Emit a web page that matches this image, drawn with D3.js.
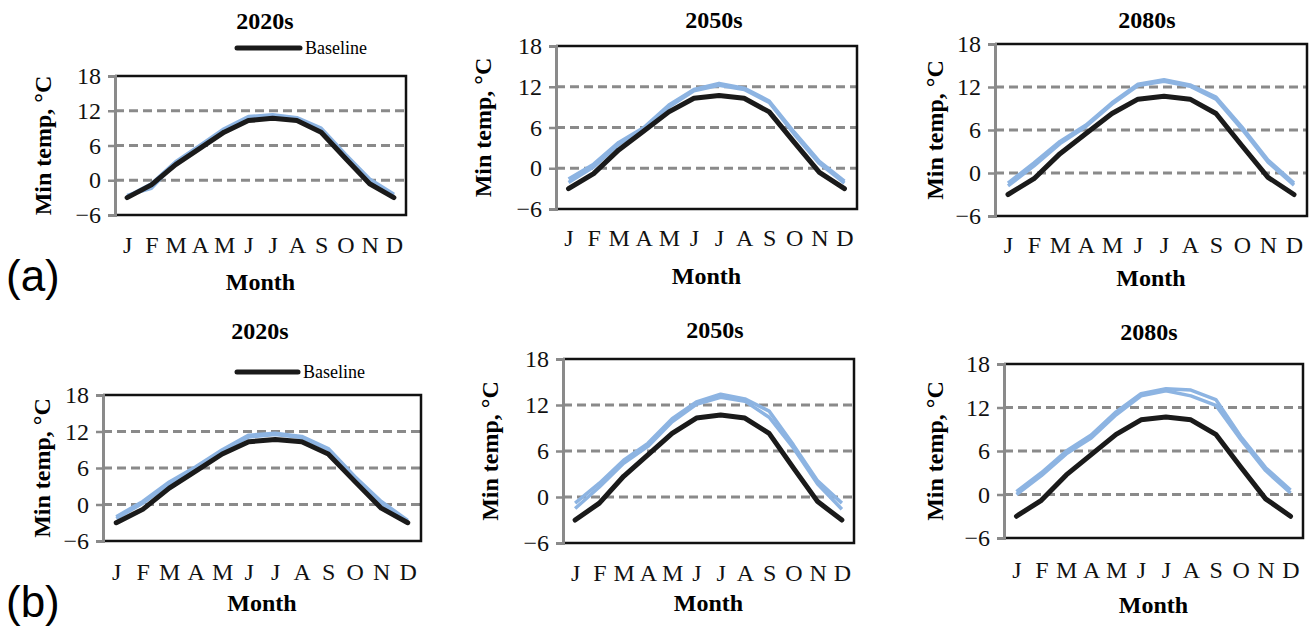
<!DOCTYPE html>
<html><head><meta charset="utf-8">
<script src="https://cdn.jsdelivr.net/npm/d3@7"></script>
<style>body{margin:0;background:#fff}svg{display:block}</style>
</head><body>
<svg id="c" width="1314" height="627"></svg>
<script>
const months = ["J","F","M","A","M","J","J","A","S","O","N","D"];
const yTicks = [-6, 0, 6, 12, 18];
const gridValues = [0, 6, 12];
const baseline = [-3.0,-0.8,2.7,5.5,8.3,10.3,10.7,10.3,8.3,3.8,-0.6,-3.0];

const a2020_1 = [-2.6,-1.4,3.0,5.8,8.7,10.8,11.1,10.7,8.8,4.3,0.0,-2.6];
const a2020_2 = [-2.8,-0.6,3.2,6.0,8.9,11.0,11.3,10.8,9.0,4.5,0.2,-2.4];
const a2050_1 = [-1.6,0.6,3.8,6.0,9.3,11.6,12.5,11.8,9.9,5.3,1.0,-1.9];
const a2050_2 = [-2.1,0.2,3.5,5.8,9.0,11.4,12.2,11.6,9.7,5.0,0.7,-2.2];
const a2080_1 = [-1.4,1.4,4.4,6.7,9.8,12.4,13.0,12.3,10.6,6.4,1.8,-1.4];
const a2080_2 = [-1.8,1.0,4.1,6.5,9.6,12.2,12.8,12.1,10.3,6.1,1.5,-1.7];
const b2020_1 = [-2.0,0.5,3.7,6.2,9.0,11.4,11.7,11.2,9.2,4.6,0.5,-2.6];
const b2020_2 = [-2.3,0.2,3.4,6.0,8.8,11.1,11.5,11.0,9.0,4.4,0.2,-2.8];
const b2050_1 = [-0.8,1.8,4.8,7.0,10.2,12.4,13.4,12.8,11.2,6.8,2.1,-0.8];
const b2050_2 = [-1.5,1.3,4.4,6.6,9.8,12.1,13.0,12.5,10.4,6.4,1.7,-1.6];
const b2080_1 = [0.4,3.0,6.0,8.2,11.4,13.9,14.6,14.4,13.1,8.0,3.7,0.6];
const b2080_2 = [0.0,2.6,5.6,7.8,11.0,13.6,14.3,13.6,12.3,7.6,3.3,0.2];

const titles = ["2020s","2050s","2080s","2020s","2050s","2080s"];
const blueSets = [[a2020_1,a2020_2],[a2050_1,a2050_2],[a2080_1,a2080_2],
                  [b2020_1,b2020_2],[b2050_1,b2050_2],[b2080_1,b2080_2]];

// layout (pixels)
const layout = [
  {L:115,R:406,T:76,B:215,tx:265,ty:21,ylx:43,pad:21,my:282,legend:{y:48,x1:237,x2:300}},
  {L:556,R:857,T:46,B:209,tx:714,ty:20,ylx:483,pad:20,my:276},
  {L:995,R:1307,T:44,B:216,tx:1147,ty:20,ylx:935,pad:20,my:278},
  {L:103,R:421,T:395,B:541,tx:260,ty:331,ylx:42,pad:22,my:603,legend:{y:372,x1:237,x2:298}},
  {L:563,R:854,T:359,B:543,tx:715,ty:330,ylx:490,pad:21,my:603},
  {L:1004,R:1303,T:364,B:538,tx:1149,ty:332,ylx:935,pad:23,my:605}
];

const svg = d3.select("#c");
const serif = "'Liberation Serif','Times New Roman',serif";
const gray = "#8a8a8a", blue = "#8db4e2";

layout.forEach((p, i) => {
  const g = svg.append("g");
  const x = d3.scalePoint().domain(d3.range(12)).range([p.L, p.R]).padding(0.5);
  const y = d3.scaleLinear().domain([-6, 18]).range([p.B, p.T]);

  // gridlines
  g.selectAll("line.grid").data(gridValues).enter().append("line")
    .attr("x1", p.L).attr("x2", p.R).attr("y1", d => y(d)).attr("y2", d => y(d))
    .attr("stroke", gray).attr("stroke-width", 3).attr("stroke-dasharray", "9,5");

  // frame top/right/bottom
  g.append("path")
    .attr("d", `M${p.L},${p.T}H${p.R}V${p.B}H${p.L}`)
    .attr("fill", "none").attr("stroke", "#111").attr("stroke-width", 2.5);

  // y axis
  const ya = g.append("g").attr("transform", `translate(${p.L},0)`)
    .call(d3.axisLeft(y).tickValues(yTicks).tickSize(7).tickPadding(7));
  ya.select(".domain").attr("stroke", gray).attr("stroke-width", 3);
  ya.selectAll(".tick line").attr("stroke", gray).attr("stroke-width", 2.5);
  ya.selectAll("text").attr("font-family", serif).attr("font-size", 24).attr("fill", "#111");

  // x axis labels
  const xa = g.append("g").attr("transform", `translate(0,${p.B})`)
    .call(d3.axisBottom(x).tickSize(0).tickPadding(p.pad).tickFormat(d => months[d]));
  xa.select(".domain").remove();
  xa.selectAll("text").attr("font-family", serif).attr("font-size", 24).attr("fill", "#111");

  // lines
  const line = d3.line().x((d, k) => x(k)).y(d => y(d));
  blueSets[i].forEach(s => {
    g.append("path").datum(s).attr("d", line).attr("fill", "none")
      .attr("stroke", blue).attr("stroke-width", 3.5).attr("stroke-linejoin", "round");
  });
  g.append("path").datum(baseline).attr("d", line).attr("fill", "none")
    .attr("stroke", "#1a1a1a").attr("stroke-width", 5)
    .attr("stroke-linejoin", "round").attr("stroke-linecap", "round");

  // title
  g.append("text").attr("x", p.tx).attr("y", p.ty).attr("text-anchor", "middle")
    .attr("dominant-baseline", "central").attr("font-family", serif)
    .attr("font-weight", "bold").attr("font-size", 24).text(titles[i]);

  // y label
  g.append("text").attr("transform", `translate(${p.ylx},${(p.T + p.B) / 2}) rotate(-90)`)
    .attr("text-anchor", "middle").attr("dominant-baseline", "central")
    .attr("font-family", serif).attr("font-weight", "bold").attr("font-size", 24)
    .text("Min temp, °C");

  // x label
  g.append("text").attr("x", (p.L + p.R) / 2).attr("y", p.my).attr("text-anchor", "middle")
    .attr("dominant-baseline", "central").attr("font-family", serif)
    .attr("font-weight", "bold").attr("font-size", 24).text("Month");

  // legend
  if (p.legend) {
    g.append("line").attr("x1", p.legend.x1).attr("x2", p.legend.x2)
      .attr("y1", p.legend.y).attr("y2", p.legend.y)
      .attr("stroke", "#1a1a1a").attr("stroke-width", 5).attr("stroke-linecap", "round");
    g.append("text").attr("x", p.legend.x2 + 5).attr("y", p.legend.y)
      .attr("dominant-baseline", "central").attr("font-family", serif)
      .attr("font-size", 18).text("Baseline");
  }
});

// panel letters
const panelLetters = [{t:"(a)", y:275}, {t:"(b)", y:601}];
svg.selectAll("text.letter").data(panelLetters).enter().append("text")
  .attr("class", "letter").attr("x", 6).attr("y", d => d.y)
  .attr("dominant-baseline", "central")
  .attr("font-family", "'Liberation Sans',Arial,sans-serif").attr("font-size", 44)
  .text(d => d.t);
</script>
</body></html>
